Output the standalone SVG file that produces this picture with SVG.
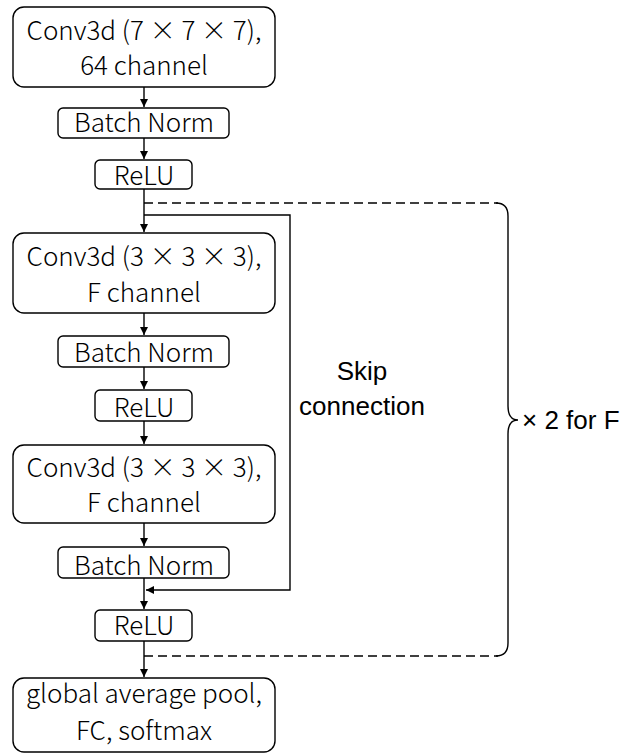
<svg xmlns="http://www.w3.org/2000/svg" width="628" height="756" viewBox="0 0 628 756">
<style>
.box{fill:#fff;stroke:#000;stroke-width:1.4}
.t{font-family:"Noto Sans CJK KR","Noto Sans",sans-serif;font-size:26px;font-weight:300;text-anchor:middle;fill:#000}
.a{font-family:"Liberation Sans",Arial,sans-serif;font-size:26px;fill:#000}
.ln{fill:none;stroke:#000;stroke-width:1.4}
.dash{fill:none;stroke:#000;stroke-width:1.4;stroke-dasharray:9,5}
</style>
<defs>
<marker id="ah" markerWidth="8" markerHeight="8" refX="8" refY="4" orient="auto" markerUnits="userSpaceOnUse">
<path d="M0,0 L8,4 L0,8 z" fill="#000"/>
</marker>
</defs>
<g id="connectors">
<line class="ln" x1="144" y1="87" x2="144" y2="107" marker-end="url(#ah)"/>
<line class="ln" x1="144" y1="138" x2="144" y2="159" marker-end="url(#ah)"/>
<line class="ln" x1="144" y1="189" x2="144" y2="232" marker-end="url(#ah)"/>
<line class="ln" x1="144" y1="313" x2="144" y2="335" marker-end="url(#ah)"/>
<line class="ln" x1="144" y1="367" x2="144" y2="389" marker-end="url(#ah)"/>
<line class="ln" x1="144" y1="421" x2="144" y2="444" marker-end="url(#ah)"/>
<line class="ln" x1="144" y1="523" x2="144" y2="546" marker-end="url(#ah)"/>
<line class="ln" x1="144" y1="578" x2="144" y2="609" marker-end="url(#ah)"/>
<line class="ln" x1="144" y1="641" x2="144" y2="677" marker-end="url(#ah)"/>
<polyline class="ln" points="144,215 290,215 290,590 146,590" marker-end="url(#ah)"/>
<line class="dash" x1="144" y1="203" x2="498" y2="203"/>
<line class="dash" x1="144" y1="656" x2="498" y2="656"/>
<path class="ln" d="M496,203 Q508,203 508,216 L508,406 Q508,420 518,420 Q508,420 508,434 L508,643 Q508,656 496,656"/>
</g>
<g id="n1"><rect class="box" x="13" y="7" width="262" height="80" rx="11"/><text class="t" x="144" y="40">Conv3d (7 × 7 × 7),</text><text class="t" x="144" y="75">64 channel</text></g>
<g id="n2"><rect class="box" x="58" y="108" width="171" height="30" rx="5"/><text class="t" x="144" y="132">Batch Norm</text></g>
<g id="n3"><rect class="box" x="95" y="160" width="97" height="29" rx="5"/><text class="t" x="144" y="185">ReLU</text></g>
<g id="n4"><rect class="box" x="13" y="233" width="262" height="80" rx="11"/><text class="t" x="144" y="266">Conv3d (3 × 3 × 3),</text><text class="t" x="144" y="302">F channel</text></g>
<g id="n5"><rect class="box" x="58" y="336" width="171" height="31" rx="5"/><text class="t" x="144" y="362">Batch Norm</text></g>
<g id="n6"><rect class="box" x="95" y="390" width="97" height="31" rx="5"/><text class="t" x="144" y="417">ReLU</text></g>
<g id="n7"><rect class="box" x="13" y="445" width="262" height="78" rx="11"/><text class="t" x="144" y="477">Conv3d (3 × 3 × 3),</text><text class="t" x="144" y="512">F channel</text></g>
<g id="n8"><rect class="box" x="58" y="547" width="171" height="31" rx="5"/><text class="t" x="144" y="575">Batch Norm</text></g>
<g id="n9"><rect class="box" x="95" y="610" width="97" height="31" rx="5"/><text class="t" x="144" y="635">ReLU</text></g>
<g id="n10"><rect class="box" x="13" y="678" width="262" height="74" rx="11"/><text class="t" x="144" y="703">global average pool,</text><text class="t" x="144" y="740">FC, softmax</text></g>
<g id="labels">
<text class="a" x="362" y="380" text-anchor="middle">Skip</text>
<text class="a" x="362" y="415" text-anchor="middle">connection</text>
<text class="a" x="522" y="429">× 2 for F</text>
</g>
</svg>
